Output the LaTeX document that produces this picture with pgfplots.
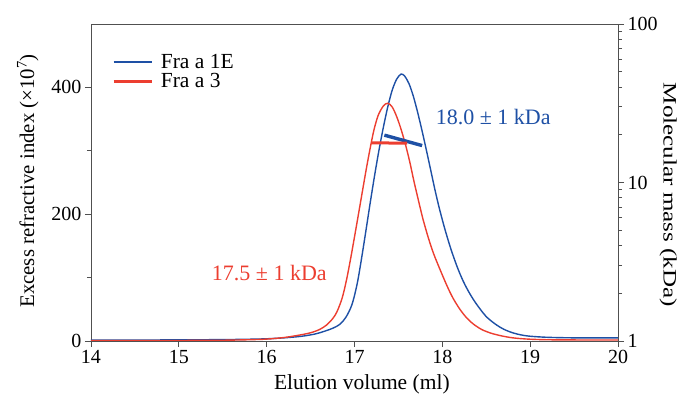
\documentclass[border=0pt]{standalone}
\usepackage{pgfplots}
\pgfplotsset{compat=1.18}
\usepackage{fontspec}
\setmainfont{Liberation Serif}
\definecolor{bluec}{RGB}{30,80,165}
\definecolor{redc}{RGB}{236,62,48}
\definecolor{axc}{RGB}{80,80,80}
\pgfplotsset{/pgf/number format/assume math mode=true}
\begin{document}
\begin{tikzpicture}[font=\fontsize{20}{24}\selectfont]
\path (-91pt,-56pt) rectangle (591pt,341pt);
\begin{axis}[
  scale only axis, width=527pt, height=317pt,
  xmin=14, xmax=20, ymin=0, ymax=500,
  xtick={14,15,16,17,18,19,20},
  ytick={0,200,400}, minor ytick={100,300},
  xtick pos=bottom, ytick pos=left,
  tick align=outside, major tick length=6pt, minor tick length=4pt,
  axis line style={draw=axc, line width=0.8pt},
  tick style={draw=axc, line width=0.8pt},
  xlabel={Elution volume (ml)},
  ylabel={Excess refractive index (×10\textsuperscript{7})},
  xlabel style={at={(axis description cs:0.514,0)}, anchor=base, yshift=-49pt,
    font=\fontsize{21.5}{24}\selectfont},
  ylabel style={at={(axis description cs:-0.12,0.505)}, anchor=center,
    font=\fontsize{20.8}{24}\selectfont},
  legend style={at={(0.04,0.906)}, anchor=north west, draw=none, fill=none,
    inner sep=0pt, row sep=4pt, nodes={inner sep=0pt},
    font=\fontsize{21.5}{24}\selectfont,
    /tikz/every odd column/.append style={column sep=8pt}},
  legend cell align=left,
  legend image code/.code={\draw[#1, line width=2.6pt] (0pt,0pt) -- (38pt,0pt);},
]
\addplot[bluec, line width=1.4pt, smooth, tension=0.5] coordinates {
(14.0,1.5) (14.5,1.5) (15.0,1.8) (15.5,2.2) (15.8,2.8) (16.0,3.5) (16.2,5)
(16.4,7.5) (16.55,11) (16.65,15) (16.75,20) (16.83,26) (16.90,37) (16.97,57)
(17.03,90) (17.08,130) (17.13,174) (17.18,219) (17.23,262) (17.28,302)
(17.33,338) (17.38,370) (17.43,396) (17.48,413) (17.53,421) (17.57,418)
(17.62,406) (17.67,386) (17.72,360) (17.77,331) (17.82,300) (17.87,268)
(17.92,236) (17.97,207) (18.03,176) (18.10,144) (18.18,113) (18.26,88)
(18.36,64) (18.49,40) (18.60,27) (18.70,18.5) (18.80,13) (18.90,9.5) (19.0,7.5)
(19.2,5.8) (19.5,5) (20.0,5)
};
\addlegendentry{Fra a 1E}
\addplot[redc, line width=1.4pt, smooth, tension=0.5] coordinates {
(14.0,0.5) (14.5,0.5) (15.0,0.8) (15.5,1.2) (15.8,2.0) (16.0,3.0) (16.2,5.5)
(16.38,9.5) (16.5,13) (16.6,18) (16.68,25) (16.75,35) (16.80,46) (16.86,68)
(16.91,97) (16.96,133) (17.02,180) (17.08,228) (17.13,268) (17.17,298)
(17.22,332) (17.27,356) (17.33,371) (17.38,375) (17.43,369) (17.48,354)
(17.53,334) (17.58,310) (17.63,282) (17.68,250) (17.755,206) (17.78,192)
(17.84,163) (17.90,138) (17.97,114) (18.05,88) (18.12,68) (18.20,50)
(18.28,36) (18.36,26) (18.45,18) (18.55,12.5) (18.66,8.5) (18.8,5)
(19.0,2.8) (19.3,1.8) (20.0,1.5)
};
\addlegendentry{Fra a 3}
\node[text=bluec, font=\fontsize{22}{24}\selectfont] at (axis cs:18.58,353) {18.0 ± 1 kDa};
\node[text=redc, font=\fontsize{22}{24}\selectfont] at (axis cs:16.03,108) {17.5 ± 1 kDa};
\end{axis}
\begin{axis}[
  scale only axis, width=527pt, height=317pt,
  xmin=14, xmax=20, ymin=1, ymax=100, ymode=log,
  axis x line=none, axis y line*=right,
  ytick={1,10,100}, yticklabels={1,10,100},
  tick align=outside, major tick length=6pt, minor tick length=4pt,
  axis line style={draw=axc, line width=0.8pt},
  tick style={draw=axc, line width=0.8pt},
  ylabel={\scalebox{1.32}[1]{Molecular mass (kDa)}},
  ylabel style={at={(axis description cs:1.095,0.461)}, anchor=center, rotate=180,
    font=\fontsize{19}{24}\selectfont},
]
\addplot[bluec, line width=3.4pt] coordinates {(17.34,19.9) (17.77,17.1)};
\addplot[redc, line width=3pt] coordinates {(17.19,17.8) (17.60,17.7)};
\end{axis}
\end{tikzpicture}
\end{document}
